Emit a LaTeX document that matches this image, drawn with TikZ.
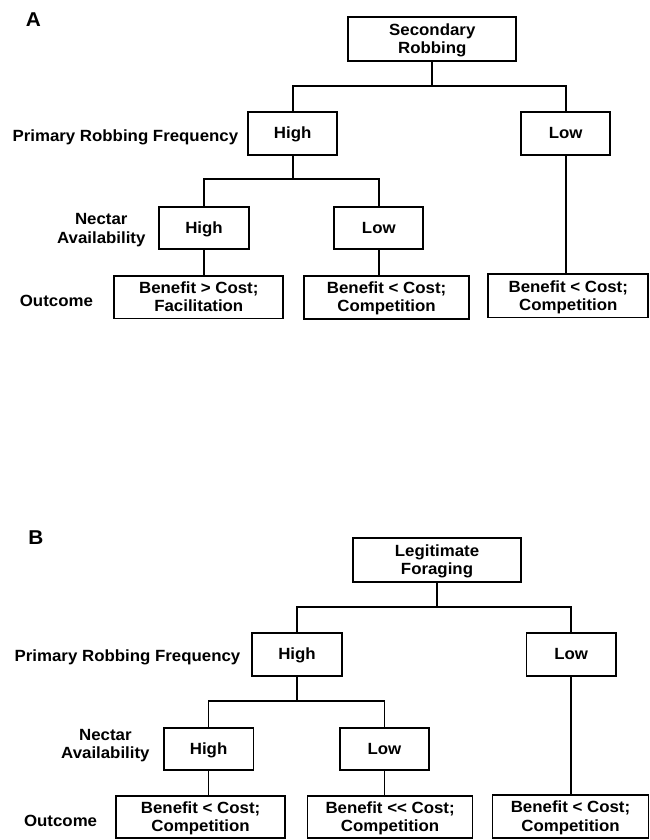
\documentclass[tikz,border=0pt]{standalone}
\usepackage{fontspec}
\newfontfamily\hv{Liberation Sans}[FakeStretch=1.04]
\newcommand\lineL[1]{\raisebox{0pt}[11.5pt][0.5pt]{#1}}
\begin{document}
\begin{tikzpicture}[x=1pt,y=-1pt,
  txt/.style={font=\hv\bfseries\fontsize{16.2}{18.3}\selectfont},
  box/.style={txt, draw, line width=1.7pt, inner sep=0pt, align=center},
  lab/.style={txt, inner sep=0pt, align=center},
  panel/.style={inner sep=0pt, font=\hv\bfseries\fontsize{20}{24}\selectfont},
  conn/.style={line width=1.7pt}]
\useasboundingbox (0,0) rectangle (650,840);

% ---------------- Panel A ----------------
\node[panel] (A) at (33.5,19.5) {A};
\node[box, minimum width=168pt, minimum height=43.7pt] (secA) at (432.3,39.2) {\lineL{Secondary}\\\lineL{Robbing}};
\node[box, minimum width=89pt, minimum height=43pt] (phA) at (292.7,133.5) {\lineL{High}};
\node[box, minimum width=89pt, minimum height=43pt] (plA) at (565.7,133.5) {\lineL{Low}};
\node[box, minimum width=89.5pt, minimum height=42.6pt] (nhA) at (204,228) {\lineL{High}};
\node[box, minimum width=89pt, minimum height=42.6pt] (nlA) at (378.8,228) {\lineL{Low}};
\node[box, minimum width=169pt, minimum height=42.3pt] (o1A) at (198.8,297.2) {\lineL{Benefit > Cost;}\\\lineL{Facilitation}};
\node[box, minimum width=165.4pt, minimum height=43pt] (o2A) at (386.6,297.2) {\lineL{Benefit < Cost;}\\\lineL{Competition}};
\node[box, minimum width=160pt, minimum height=43.3pt] (o3A) at (568.3,295.7) {\lineL{Benefit < Cost;}\\\lineL{Competition}};

\node[lab, anchor=east] (prfA) at (238.4,135.8) {\lineL{Primary Robbing Frequency}};
\node[lab] (nectA) at (101.3,228.6) {\lineL{Nectar}\\\lineL{Availability}};
\node[lab] (outA) at (56.4,300.8) {\lineL{Outcome}};

\coordinate (busA1) at (432.4,86);
\coordinate (busA2) at (292.3,179.3);
\draw[conn] (secA.south) -- (secA.south |- busA1);
\draw[conn] (phA.north) |- (plA.north |- busA1) -- (plA.north);
\draw[conn] (phA.south) -- (phA.south |- busA2);
\draw[conn] (nhA.north) |- (nlA.north |- busA2) -- (nlA.north);
\draw[conn] (nhA.south) -- (nhA.south |- o1A.north);
\draw[conn] (nlA.south) -- (nlA.south |- o2A.north);
\draw[conn] (plA.south) -- (plA.south |- o3A.north);

% ---------------- Panel B ----------------
\node[panel] (B) at (36,537.5) {B};
\node[box, minimum width=168.3pt, minimum height=43.4pt] (legB) at (437,560) {\lineL{Legitimate}\\\lineL{Foraging}};
\node[box, minimum width=90pt, minimum height=43.3pt] (phB) at (297,654.3) {\lineL{High}};
\node[box, minimum width=89.2pt, minimum height=43.3pt] (plB) at (571.1,654.3) {\lineL{Low}};
\node[box, minimum width=89.5pt, minimum height=42.6pt] (nhB) at (208.6,749) {\lineL{High}};
\node[box, minimum width=89.5pt, minimum height=42.6pt] (nlB) at (384.4,749) {\lineL{Low}};
\node[box, minimum width=169.2pt, minimum height=42pt] (o1B) at (200.6,817) {\lineL{Benefit < Cost;}\\\lineL{Competition}};
\node[box, minimum width=165pt, minimum height=42pt] (o2B) at (390.1,817) {\lineL{Benefit << Cost;}\\\lineL{Competition}};
\node[box, minimum width=156pt, minimum height=43pt] (o3B) at (570.5,816.5) {\lineL{Benefit < Cost;}\\\lineL{Competition}};

\node[lab, anchor=east] (prfB) at (240.5,655.8) {\lineL{Primary Robbing Frequency}};
\node[lab] (nectB) at (105.4,744) {\lineL{Nectar}\\\lineL{Availability}};
\node[lab] (outB) at (60.6,821.3) {\lineL{Outcome}};

\coordinate (busB1) at (437,607.3);
\coordinate (busB2) at (296.4,700.7);
\draw[conn] (legB.south) -- (legB.south |- busB1);
\draw[conn] (phB.north) |- (plB.north |- busB1) -- (plB.north);
\draw[conn] (phB.south) -- (phB.south |- busB2);
\draw[conn] (nhB.north) |- (nlB.north |- busB2) -- (nlB.north);
\draw[conn] (nhB.south) -- (nhB.south |- o1B.north);
\draw[conn] (nlB.south) -- (nlB.south |- o2B.north);
\draw[conn] (plB.south) -- (plB.south |- o3B.north);
\end{tikzpicture}
\end{document}
